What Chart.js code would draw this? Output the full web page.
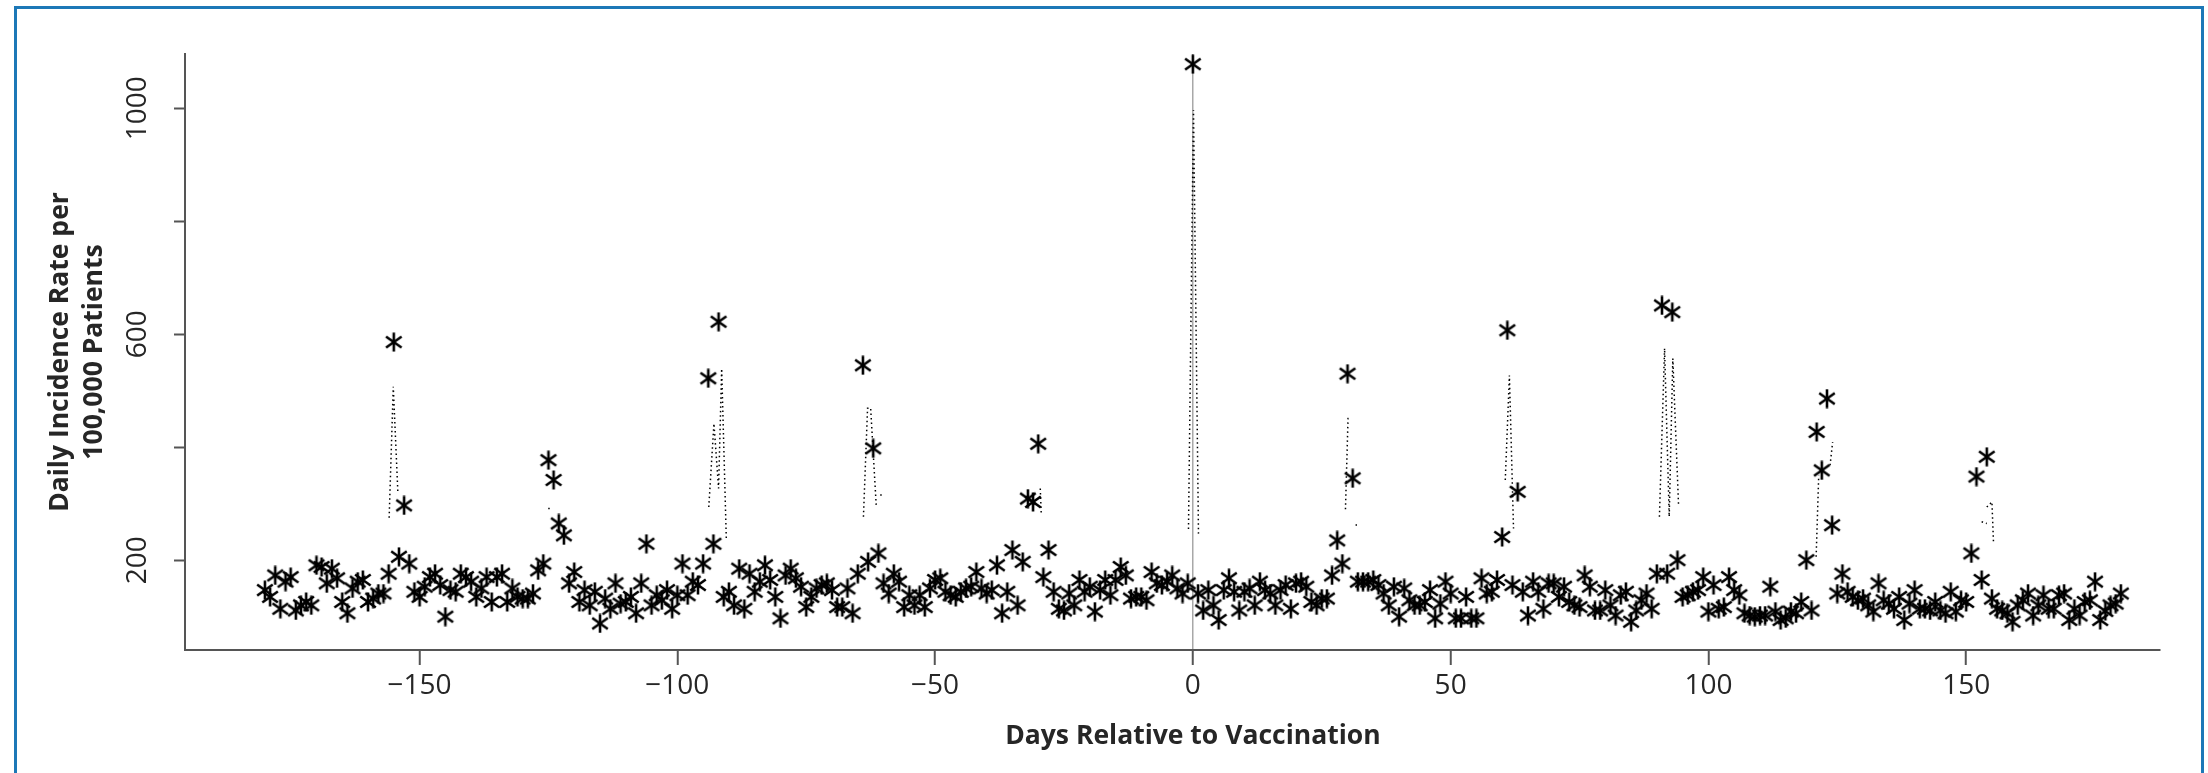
<!DOCTYPE html>
<html>
<head>
<meta charset="utf-8">
<script src="https://cdn.jsdelivr.net/npm/chart.js@4.4.1/dist/chart.umd.min.js"></script>
<style>
  html, body { margin: 0; padding: 0; background: #fff; }
  #wrap { position: relative; width: 2208px; height: 773px; overflow: hidden; background: #fff; }
  #frame { position: absolute; left: 14px; top: 6px; width: 2190px; height: 820px; border: 3px solid #1c78b7; box-sizing: border-box; pointer-events: none; }
  #chart { position: absolute; left: 0; top: 0; }
</style>
</head>
<body>
<div id="wrap">
  <canvas id="chart" width="2208" height="773"></canvas>
  <div id="frame"></div>
</div>
<script>
// 接種日からの日数（-180〜180）
const days = Array.from({ length: 361 }, (_, i) => i - 180)

// 10万人あたりの日別発生率
const rates = [
  147, 135, 173, 114, 162, 170, 111, 120, 126, 120,   // -180
  191, 188, 159, 185, 168, 126, 106, 150, 162, 165,   // -170
  126, 132, 141, 141, 176, 586, 206, 297, 194, 144,   // -160
  135, 153, 170, 176, 156, 100, 147, 144, 176, 170,   // -150
  162, 135, 150, 170, 126, 170, 176, 126, 150, 135,   // -140
  132, 132, 141, 182, 194, 377, 342, 265, 244, 159,   // -130
  179, 126, 147, 120, 144, 88, 132, 114, 159, 123,    // -120
  126, 135, 106, 159, 229, 120, 138, 129, 147, 114,   // -110
  138, 194, 138, 162, 156, 194, 522, 229, 622, 135,   // -100
  144, 120, 185, 114, 176, 144, 162, 191, 165, 135,   // -90
  97, 173, 185, 168, 153, 117, 135, 150, 156, 159,    // -80
  147, 117, 117, 150, 106, 176, 545, 197, 398, 212,   // -70
  159, 141, 176, 162, 117, 138, 120, 138, 117, 150,   // -60
  165, 168, 144, 138, 135, 144, 150, 153, 179, 150,   // -50
  141, 147, 191, 106, 144, 218, 120, 197, 309, 303,   // -40
  406, 170, 218, 144, 114, 111, 141, 120, 165, 144,   // -30
  153, 109, 147, 165, 138, 165, 188, 173, 132, 135,   // -20
  135, 129, 179, 159, 156, 162, 173, 150, 141, 159,   // -10
  1078, 141, 111, 147, 120, 94, 147, 168, 144, 111,   // 0
  144, 150, 120, 162, 147, 141, 120, 147, 156, 114,   // 10
  159, 162, 153, 126, 120, 132, 132, 173, 235, 194,   // 20
  530, 345, 162, 162, 162, 165, 156, 141, 120, 153,   // 30
  100, 150, 129, 120, 120, 126, 147, 97, 123, 162,    // 40
  141, 97, 97, 135, 97, 97, 168, 141, 144, 165,       // 50
  241, 607, 156, 321, 144, 102, 162, 144, 114, 159,   // 60
  159, 135, 153, 126, 120, 117, 173, 153, 111, 111,   // 70
  147, 120, 102, 138, 144, 91, 111, 129, 141, 114,    // 80
  176, 651, 176, 639, 200, 135, 138, 144, 147, 170,   // 90
  109, 156, 114, 117, 170, 147, 138, 106, 102, 100,   // 100
  102, 102, 153, 109, 94, 97, 109, 106, 126, 200,     // 110
  111, 427, 359, 486, 262, 141, 176, 144, 135, 129,   // 120
  132, 120, 109, 159, 129, 123, 114, 135, 94, 123,    // 130
  147, 114, 114, 111, 126, 111, 106, 144, 109, 129,   // 140
  126, 212, 348, 165, 383, 132, 114, 111, 106, 91,    // 150
  120, 129, 141, 102, 120, 138, 114, 114, 138, 141,   // 160
  94, 114, 102, 126, 129, 162, 94, 110, 120, 123,     // 170
  141                                                 // 180
]

// 点線（ピーク付近の折れ線）null で区切る
const guideDays = [
  -155.9, -155.1, -154.2, null,
  -124.9, -124.9, null,
  -93.9, -92.9, -92.0, -91.4, -90.5, null,
  -63.9, -63.1, -62.5, -61.4, null,
  -60.5, -60.5, null,
  -29.6, -29.4, null,
  -0.85, 0.12, 1.09, null,
  29.6, 30.1, 30.7, null,
  31.7, 31.7, null,
  60.6, 61.4, 62.2, null,
  90.5, 91.5, 92.4, 93.1, 94.2, null,
  120.9, 121.4, null,
  123.6, 124.1, null,
  153.0, 154.0, null,
  154.0, 155.0, 155.3
]
const guideRates = [
  275, 507, 318, null,
  290, 298, null,
  294, 442, 327, 539, 238, null,
  277, 469, 469, 294, null,
  314, 322, null,
  327, 280, null,
  255, 997, 247, null,
  290, 451, 454, null,
  261, 269, null,
  342, 527, 256, null,
  277, 575, 277, 557, 300, null,
  206, 350, null,
  368, 409, null,
  268, 265, null,
  294, 303, 232
]

// 目盛り
const xTickValues = [-150, -100, -50, 0, 50, 100, 150]
const yTickValues = [200, 400, 600, 800, 1000]
const yLabelValues = [200, 600, 1000]
const yTickLabels = ['200', '600', '1000']

const xTitle = 'Days Relative to Vaccination'
const yTitle = ['Daily Incidence Rate per', '100,000 Patients']

// アスタリスクのマーカー
function makeAsterisk(size, lw) {
	const c = document.createElement('canvas')
	c.width = size
	c.height = size
	const g = c.getContext('2d')
	const r = size / 2 - 0.5
	g.strokeStyle = '#000'
	g.lineWidth = lw
	g.translate(size / 2, size / 2)
	;[90, 35, 145].forEach(a => {
		const t = a * Math.PI / 180
		g.beginPath()
		g.moveTo(-Math.cos(t) * r, -Math.sin(t) * r)
		g.lineTo(Math.cos(t) * r, Math.sin(t) * r)
		g.stroke()
	})
	return c
}
const asterisk = makeAsterisk(20, 2.6)

const fmt = v => (v < 0 ? '\u2212' + Math.abs(v) : String(v))

// 軸ラベルなどの文字
const textPlugin = {
	id: 'texts',
	afterDraw(chart) {
		const { ctx, scales: { x, y } } = chart
		ctx.save()
		ctx.fillStyle = '#262626'
		ctx.textAlign = 'center'
		ctx.textBaseline = 'middle'

		// y の目盛りラベル（回転）
		ctx.font = '500 28px "Open Sans"'
		yLabelValues.forEach((v, i) => {
			ctx.save()
			ctx.translate(138, y.getPixelForValue(v))
			ctx.rotate(-Math.PI / 2)
			ctx.fillText(yTickLabels[i], 0, 0)
			ctx.restore()
		})

		// y タイトル
		ctx.font = 'bold 26.5px "Open Sans"'
		const yMid = (y.top + y.bottom) / 2
		ctx.save()
		ctx.translate(60, yMid)
		ctx.rotate(-Math.PI / 2)
		ctx.fillText(yTitle[0], 0, 0)
		ctx.restore()
		ctx.save()
		ctx.translate(94, yMid)
		ctx.rotate(-Math.PI / 2)
		ctx.fillText(yTitle[1], 0, 0)
		ctx.restore()

		// x タイトル
		ctx.fillText(xTitle, x.getPixelForValue(0), 736)
		ctx.restore()
	}
}

const chart_data = {
	type: 'scatter',
	data: {
		datasets: [
			{
				type: 'scatter',
				data: days.map((d, i) => ({ x: d, y: rates[i] })),
				pointStyle: asterisk,
				pointRadius: 10,
				clip: false,
				order: 1
			},
			{
				type: 'line',
				data: guideDays.map((d, i) => ({ x: d, y: guideRates[i] })),
				showLine: true,
				borderColor: '#000',
				borderWidth: 1.5,
				borderDash: [1.5, 3],
				pointRadius: 0,
				spanGaps: false,
				fill: false,
				order: 2
			}
		]
	},
	options: {
		responsive: false,
		animation: false,
		devicePixelRatio: 1,
		layout: {
			padding: { left: 0, right: 48, top: 54, bottom: 0 }
		},
		plugins: {
			legend: { display: false },
			tooltip: { enabled: false }
		},
		scales: {
			x: {
				type: 'linear',
				min: -195.5,
				max: 187.6,
				afterBuildTicks: s => { s.ticks = xTickValues.map(v => ({ value: v })) },
				afterFit: s => { s.height = 123 },
				border: { display: true, color: '#555', width: 2 },
				grid: {
					color: c => (c.tick && c.tick.value === 0 ? '#a8a8a8' : 'rgba(0,0,0,0)'),
					lineWidth: 1.5,
					tickColor: '#555',
					tickWidth: 2,
					tickLength: 15
				},
				ticks: {
					callback: v => fmt(v),
					font: { family: 'Open Sans', size: 28, weight: '500' },
					color: '#262626',
					padding: 4,
					maxRotation: 0,
					autoSkip: false
				}
			},
			y: {
				type: 'linear',
				min: 41,
				max: 1096,
				afterBuildTicks: s => { s.ticks = yTickValues.map(v => ({ value: v })) },
				afterFit: s => { s.width = 185 },
				border: { display: true, color: '#555', width: 2 },
				grid: {
					drawOnChartArea: false,
					tickColor: '#555',
					tickWidth: 2,
					tickLength: 11
				},
				ticks: { display: false }
			}
		}
	},
	plugins: [textPlugin]
}

const chart = new Chart(document.getElementById('chart'), chart_data)
</script>
</body>
</html>
